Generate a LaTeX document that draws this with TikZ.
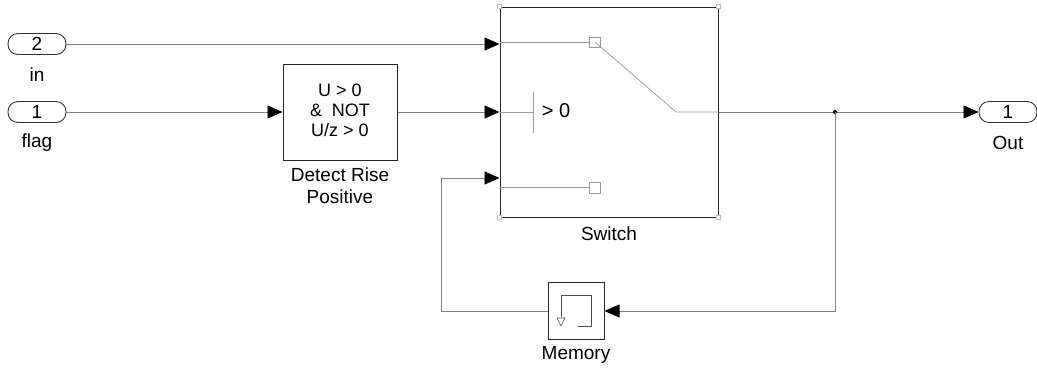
\documentclass[tikz,border=0pt]{standalone}
\usepackage{fontspec}
\setmainfont{Liberation Sans}
\usetikzlibrary{arrows.meta}
\begin{document}
\begin{tikzpicture}[x=1pt,y=-1pt,
  font=\fontsize{19}{22}\selectfont,
  port/.style={draw=black!80, line width=0.9pt, rounded corners=10pt, minimum width=58pt, minimum height=21pt, inner sep=0pt},
  blk/.style={draw=black!85, line width=1pt, fill=white, inner sep=0pt},
  sig/.style={draw=black!50, line width=0.8pt, -{Triangle[length=15pt,width=13pt,color=black]}},
  icon/.style={draw=black!40, line width=0.7pt},
  lbl/.style={inner sep=0pt, align=center},
  handle/.style={draw=black!25, line width=0.5pt, fill=white, minimum size=4pt, inner sep=0pt}
]
\useasboundingbox (0,0) rectangle (1037,368);

% ports
\node[port] (in2) at (37,44) {2};
\node[lbl] (in2l) at (37,75) {in};
\node[port] (in1) at (37,112) {1};
\node[lbl] (in1l) at (37,143) {flag};
\node[port] (out) at (1008,112) {1};
\node[lbl] (outl) at (1008,143) {Out};

% Detect Rise Positive
\node[blk, minimum width=114pt, minimum height=96pt] (det) at (340,112)
  {\fontsize{18}{20}\selectfont\begin{tabular}{@{}c@{}}U > 0\\ \&\ \ NOT\\ U/z > 0\end{tabular}};
\node[lbl] (detl) at (340,186) {Detect Rise\\Positive};

% Switch
\node[blk, minimum width=218pt, minimum height=210pt] (sw) at (609,112) {};
\node[lbl] (swl) at (609,234) {Switch};
\foreach \c in {north west,north east,south west,south east}
  \node[handle] at (sw.\c) {};
\coordinate (sw1) at (sw.west |- 0,44);
\coordinate (sw2) at (sw.west |- 0,112);
\coordinate (sw3) at (sw.west |- 0,178);
% switch icon
\draw[icon] (500,42) -- (589,42);
\draw[icon] (589,37) rectangle (600,47);
\draw[icon] (595,42) -- (676,112) -- (sw.east);
\draw[icon] (500,112) -- (533,112);
\draw[icon] (533,92) -- (533,133);
\node[lbl, font=\fontsize{20}{22}\selectfont] (gt) at (556,111) {> 0};
\draw[icon] (500,187) -- (589,187);
\draw[icon] (589,182) rectangle (600,193);

% Memory
\node[blk, minimum width=56pt, minimum height=57pt] (mem) at (576,311) {};
\node[lbl] (meml) at (576,355) {Memory};
\draw[draw=black!70, line width=0.8pt] (561,317) -- (561,295) -- (591,295) -- (591,326) -- (578,326);
\draw[draw=black!70, line width=0.6pt] (557,318) -- (565,318) -- (561,326) -- cycle;

% signals
\draw[sig] (in2.east) -- (sw1);
\draw[sig] (in1.east) -- (det.west);
\draw[sig] (det.east) -- (sw2);
\coordinate (j) at (835,112);
\draw[sig] (sw.east) -- (out.west);
\fill[black] (j) circle (2pt);
\draw[sig] (j) -- (835,311) -- (mem.east);
\draw[sig] (mem.west) -- (441,311) -- (441,178) -- (sw3);
\end{tikzpicture}
\end{document}
